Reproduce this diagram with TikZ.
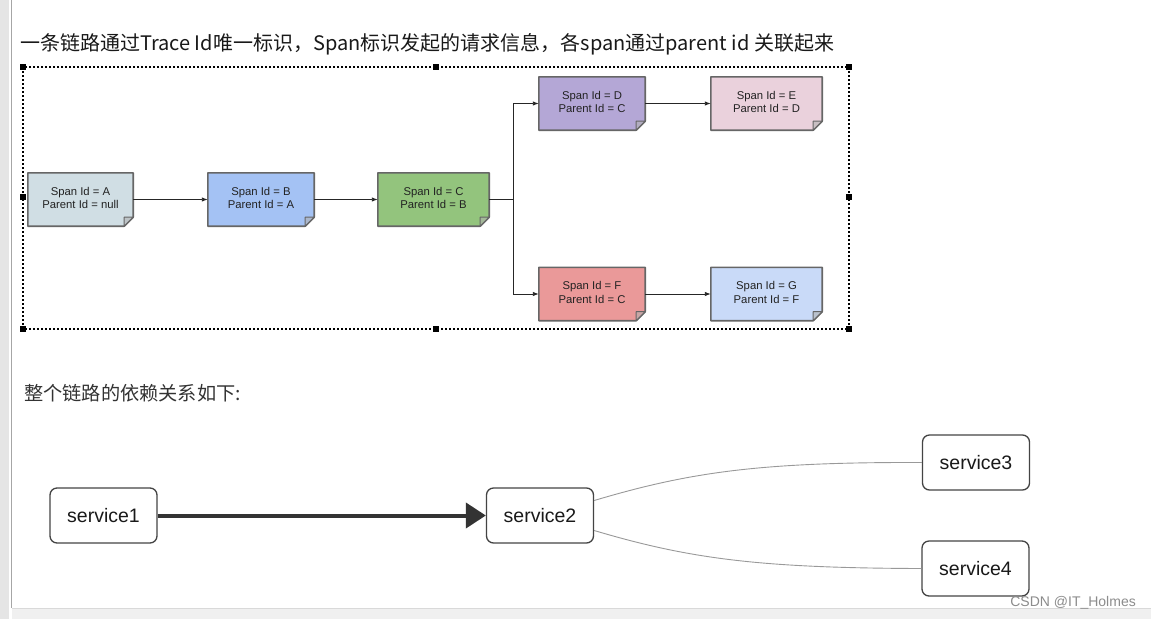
\documentclass[tikz,border=0pt]{standalone}
\usepackage{fontspec}
\setmainfont{Liberation Sans}
\newfontfamily\cjk{Noto Sans CJK SC}
\usetikzlibrary{arrows.meta}
\pgfdeclarelayer{bg}
\pgfsetlayers{bg,main}
\definecolor{bordercol}{HTML}{666666}
\definecolor{cA}{HTML}{D0DEE4}
\definecolor{cB}{HTML}{A4C2F4}
\definecolor{cC}{HTML}{93C47D}
\definecolor{cD}{HTML}{B4A7D6}
\definecolor{cE}{HTML}{EAD1DC}
\definecolor{cF}{HTML}{EA9999}
\definecolor{cG}{HTML}{C9DAF8}
\definecolor{txt}{HTML}{222222}
\definecolor{svcborder}{HTML}{444444}
\tikzset{
  spanbox/.style={inner sep=0pt, minimum height=53pt, align=center,
    font=\fontsize{11.3}{13.5}\selectfont, text=txt},
  handle/.style={fill=black, minimum size=6pt, inner sep=0pt},
  arr/.style={-{Latex[length=6pt,width=4.5pt]}, line width=0.9pt, draw=black!85},
  svc/.style={draw=svcborder, line width=1.3pt, rounded corners=7pt, fill=white,
    minimum width=107pt, minimum height=55pt, inner sep=0pt,
    font=\fontsize{19.5}{22}\selectfont, text=black!90},
  thick arrow/.style={-{Triangle[length=20pt,width=25pt]}, line width=4pt, draw=black!80},
  thin curve/.style={draw=black!40, line width=0.9pt},
}
\newcommand\spantext[2]{\raisebox{3.5pt}{\begin{tabular}{@{}c@{}}Span Id = #1\\Parent Id = #2\end{tabular}}}
\newcommand\dogear[2]{%
  \begin{pgfonlayer}{bg}
  \filldraw[fill=#2, draw=bordercol, line width=1.6pt, line join=round]
    (#1.north west) -- (#1.north east) -- ([yshift=9pt]#1.south east)
    -- ([xshift=-9pt]#1.south east) -- (#1.south west) -- cycle;
  \filldraw[fill=#2!70!black!60!white, draw=bordercol, line width=1pt, line join=round]
    ([yshift=9pt]#1.south east) -- ([xshift=-9pt,yshift=9pt]#1.south east)
    -- ([xshift=-9pt]#1.south east) -- cycle;
  \end{pgfonlayer}}
\begin{document}
\begin{tikzpicture}[x=1pt,y=-1pt]
\useasboundingbox (0,0) rectangle (1151,619);
\begin{pgfonlayer}{bg}
\fill[white] (0,0) rectangle (1151,619);
% window chrome
\fill[black!10] (0,0) rectangle (9,619);
\draw[black!35, line width=1pt] (11,0) -- (11,608);
\fill[black!6] (12,608) rectangle (1151,619);
\draw[black!15] (12,608) -- (1151,608);
\end{pgfonlayer}

% title
\node[anchor=west, inner sep=0pt, text=black!90, font=\cjk\fontsize{20}{24}\selectfont] (title) at (20,44)
  {一条链路通过Trace Id唯一标识，Span标识发起的请求信息，各span通过parent id 关联起来};

% dotted selection frame
\coordinate (f1) at (23,67);
\coordinate (f2) at (849,329);
\draw[black, line width=1.2pt, dash pattern=on 2pt off 2pt] (f1) rectangle (f2);
\node[handle] (h1) at (23,67) {};
\node[handle] (h2) at (436,67) {};
\node[handle] (h3) at (849,67) {};
\node[handle] (h4) at (23,197) {};
\node[handle] (h5) at (849,197) {};
\node[handle] (h6) at (23,329) {};
\node[handle] (h7) at (436,329) {};
\node[handle] (h8) at (849,329) {};

% span boxes
\node[spanbox, minimum width=105pt] (A) at (80.5,199.5) {\spantext{A}{null}};
\node[spanbox, minimum width=106pt] (B) at (261,199.5) {\spantext{B}{A}};
\node[spanbox, minimum width=111pt] (C) at (433.5,199.5) {\spantext{C}{B}};
\node[spanbox, minimum width=106pt] (D) at (592,103.5) {\spantext{D}{C}};
\node[spanbox, minimum width=111pt] (E) at (766.5,103.5) {\spantext{E}{D}};
\node[spanbox, minimum width=106pt] (F) at (592,294) {\spantext{F}{C}};
\node[spanbox, minimum width=111pt] (G) at (766.5,294) {\spantext{G}{F}};
\dogear{A}{cA}
\dogear{B}{cB}
\dogear{C}{cC}
\dogear{D}{cD}
\dogear{E}{cE}
\dogear{F}{cF}
\dogear{G}{cG}

\draw[arr] (A.east) -- (B.west);
\draw[arr] (B.east) -- (C.west);
\coordinate (split) at (513,199.5);
\draw[arr] (C.east) -- (split) |- (D.west);
\draw[arr] (split) |- (F.west);
\draw[arr] (D.east) -- (E.west);
\draw[arr] (F.east) -- (G.west);

% second text
\node[anchor=west, inner sep=0pt, text=black!80, font=\cjk\fontsize{19.2}{22}\selectfont] (sub) at (24,393)
  {整个链路的依赖关系如下:};

% services
\node[svc] (s1) at (103.5,515.5) {service1};
\node[svc] (s2) at (540,515.5) {service2};
\node[svc] (s3) at (976,462.5) {service3};
\node[svc] (s4) at (975.5,568.5) {service4};

\draw[thick arrow] (s1.east) -- (s2.west);
\draw[thin curve] ([yshift=15pt]s2.east) .. controls (690,472) and (760,462) .. (s3.west);
\draw[thin curve] ([yshift=-15pt]s2.east) .. controls (690,559) and (760,568) .. (s4.west);

% watermark
\node[anchor=east, inner sep=0pt, text=black!45, font=\fontsize{14}{16}\selectfont] (wm) at (1136,603) {CSDN @IT\_Holmes};
\end{tikzpicture}
\end{document}
